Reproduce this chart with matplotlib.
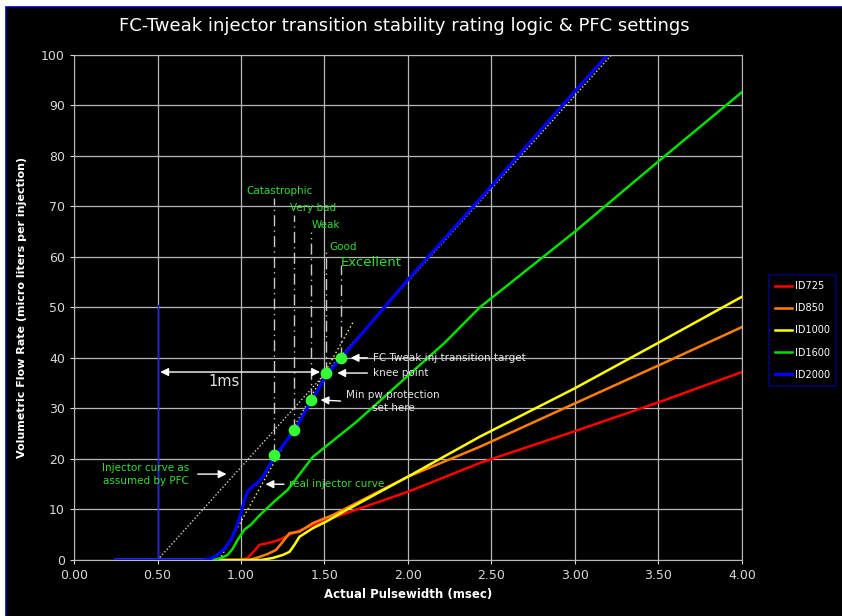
import matplotlib.pyplot as plt
from matplotlib.patches import Rectangle

# injector flow curves (pulsewidth ms -> micro liters per injection)
id725_x = [0.25, 1.00, 1.04, 1.08, 1.11, 1.17, 1.23, 1.31, 1.43, 1.51, 2.00, 2.43, 3.00, 3.50, 4.00]
id725_y = [0, 0, 0.4, 1.8, 3.0, 3.4, 4.0, 5.3, 6.9, 7.9, 13.5, 19.2, 25.5, 31.2, 37.2]

id850_x = [0.25, 1.05, 1.11, 1.16, 1.21, 1.25, 1.29, 1.35, 1.43, 1.55, 2.00, 2.43, 3.00, 3.50, 4.00]
id850_y = [0, 0, 0.6, 1.2, 2.0, 3.6, 5.3, 5.6, 7.3, 8.9, 16.5, 22.4, 31.0, 38.5, 46.1]

id1000_x = [0.25, 1.12, 1.19, 1.25, 1.29, 1.32, 1.35, 1.43, 1.51, 1.61, 2.00, 2.43, 3.00, 3.50, 4.00]
id1000_y = [0, 0, 0.4, 1.0, 1.6, 3.0, 4.6, 6.3, 7.6, 9.5, 16.5, 24.4, 34.0, 43.0, 52.1]

id1600_x = [0.25, 0.83, 0.88, 0.92, 0.95, 0.98, 1.02, 1.06, 1.11, 1.20, 1.28, 1.43, 1.69, 1.95, 2.22, 2.43, 3.00, 3.50, 4.00]
id1600_y = [0, 0, 0.4, 1.0, 2.2, 4.0, 6.0, 7.0, 8.8, 11.6, 13.9, 20.4, 27.3, 35.0, 43.0, 50.0, 65.0, 78.9, 92.6]

id2000_x = [0.25, 0.78, 0.82, 0.86, 0.90, 0.94, 0.97, 1.00, 1.02, 1.04, 1.07, 1.10, 1.13, 1.16, 1.21, 1.32, 1.425, 1.52, 1.60, 2.00, 2.50, 3.00, 3.25]
id2000_y = [0, 0, 0.3, 1.0, 2.2, 4.0, 6.3, 9.2, 11.8, 13.6, 14.6, 15.3, 16.4, 18.2, 20.8, 25.7, 31.7, 37.0, 40.0, 55.5, 74.0, 92.8, 102.0]

series = [("ID725", id725_x, id725_y, "#ff0000"),
          ("ID850", id850_x, id850_y, "#ff7f00"),
          ("ID1000", id1000_x, id1000_y, "#ffff00"),
          ("ID1600", id1600_x, id1600_y, "#00e000"),
          ("ID2000", id2000_x, id2000_y, "#0000ff")]

# stability rating points on the ID2000 curve
rating_names = ["Catastrophic", "Very bad", "Weak", "Good", "Excellent"]
rating_x = [1.20, 1.32, 1.42, 1.51, 1.60]
rating_y = [20.8, 25.7, 31.7, 37.0, 40.0]
rating_top = [71.7, 68.3, 65.0, 61.4, 58.4]
label_x = [1.23, 1.43, 1.51, 1.61, 1.78]
label_y = [73.0, 69.7, 66.3, 62.0, 58.8]

# straight lines
pfc_x = [0.5, 3.22]
pfc_y = [0, 100]
tangent_x = [0.87, 1.67]
tangent_y = [0, 47]

fig = plt.figure(figsize=(8.42, 6.16), dpi=100)
fig.patch.set_facecolor("white")
fig.patches.append(Rectangle((0.007, -0.05), 1.05, 1.039, transform=fig.transFigure,
                             facecolor="black", edgecolor="#0000a0", lw=1.2, zorder=-10))

ax = fig.add_axes([0.0879, 0.0909, 0.7933, 0.8203])
ax.set_facecolor("black")
ax.set_xlim(0, 4)
ax.set_ylim(0, 100)
ax.set_xticks([0, 0.5, 1, 1.5, 2, 2.5, 3, 3.5, 4])
ax.set_xticklabels(["%.2f" % v for v in ax.get_xticks()])
ax.set_yticks(range(0, 101, 10))
ax.grid(True, color="#b8b8b8", lw=0.9)
ax.set_axisbelow(True)
for s in ax.spines.values():
    s.set_color("#b8b8b8")
ax.tick_params(colors="#d8d8d8", labelsize=9, length=3)

ax.set_xlabel("Actual Pulsewidth (msec)", color="white", fontweight="bold", fontsize=8.5, labelpad=4)
ax.set_ylabel("Volumetric Flow Rate (micro liters per injection)", color="white",
              fontweight="bold", fontsize=8, labelpad=10)
fig.text(0.48, 0.958, "FC-Tweak injector transition stability rating logic & PFC settings",
         color="white", fontsize=13, ha="center", va="center")

# 0.5 ms marker and assumed curves
ax.plot([0.5, 0.5], [0, 50.5], color="#2020ff", lw=1)
ax.plot(pfc_x, pfc_y, color="#d0d0d0", lw=1, ls=(0, (1, 1.5)))
ax.plot(tangent_x, tangent_y, color="#ffff60", lw=1, ls=(0, (1, 2)))

for name, xs, ys, c in series:
    ax.plot(xs, ys, color=c, lw=2.3 if name == "ID2000" else 1.8, label=name)

for i in range(len(rating_x)):
    ax.plot([rating_x[i], rating_x[i]], [rating_y[i], rating_top[i]], color="#c8c8c8",
            lw=1, ls=(0, (8, 3, 1, 3)))
    ax.text(label_x[i], label_y[i], rating_names[i], color="#33dd33",
            fontsize=9.5 if rating_names[i] == "Excellent" else 7.5, ha="center", va="center")
ax.scatter(rating_x, rating_y, s=55, color="#33ff33", zorder=5)

arrow = dict(arrowstyle="-|>", color="white", lw=1, mutation_scale=12)
ax.annotate("", xy=(1.49, 37.2), xytext=(0.5, 37.2),
            arrowprops=dict(arrowstyle="<|-|>", color="white", lw=1, mutation_scale=12))
ax.text(0.9, 35.4, "1ms", color="#e0e0e0", fontsize=10.5, ha="center", va="center")

ax.annotate("FC Tweak inj transition target", xy=(1.64, 40.0), xytext=(1.79, 40.0),
            color="#e8e8e8", fontsize=7.5, va="center", arrowprops=arrow)
ax.annotate("knee point", xy=(1.56, 37.0), xytext=(1.79, 37.0),
            color="#e8e8e8", fontsize=7.5, va="center", arrowprops=arrow)
ax.annotate("Min pw protection\nset here", xy=(1.46, 31.7), xytext=(1.91, 31.4),
            color="#e8e8e8", fontsize=7.5, va="center", ha="center", linespacing=1.4,
            arrowprops=dict(arrowstyle="-|>", color="white", lw=1, mutation_scale=12,
                            relpos=(0, 0.5), shrinkA=2))
ax.annotate("real injector curve", xy=(1.13, 15.0), xytext=(1.29, 15.0),
            color="#33dd33", fontsize=7.5, va="center", arrowprops=arrow)
ax.annotate("Injector curve as\nassumed by PFC", xy=(0.93, 17.0), xytext=(0.43, 17.0),
            color="#33dd33", fontsize=7.5, va="center", ha="center", linespacing=1.4,
            arrowprops=dict(arrowstyle="-|>", color="white", lw=1, mutation_scale=12,
                            relpos=(1, 0.5), shrinkA=4))

leg = ax.legend(loc="upper left", bbox_to_anchor=(0.913, 0.553),
                bbox_transform=fig.transFigure, fontsize=7,
                facecolor="black", edgecolor="#000090", labelcolor="white",
                handlelength=1.8, handletextpad=0.3, borderpad=0.6, fancybox=False,
                borderaxespad=0, labelspacing=1.25)
leg.get_frame().set_linewidth(1.2)

plt.savefig("out.png", dpi=100, facecolor=fig.get_facecolor())
